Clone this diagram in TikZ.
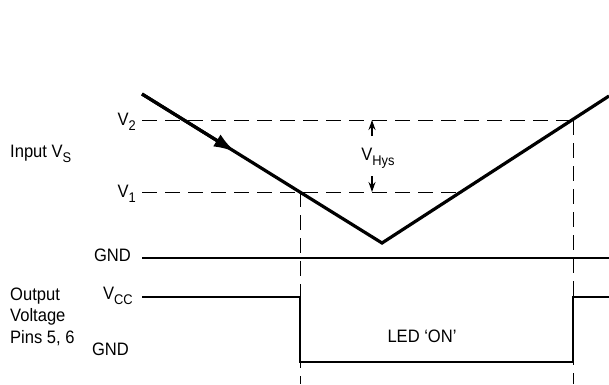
\documentclass[tikz,border=0pt]{standalone}
\usepackage{fontspec}
\setmainfont{Liberation Sans}[FakeStretch=0.92]
\usetikzlibrary{arrows.meta, positioning, calc}

\newcommand{\lowidx}[1]{\raisebox{-5pt}{\fontsize{14}{15}\selectfont #1}}

\begin{document}
\begin{tikzpicture}[
    x=1pt, y=-1pt,
    lbl/.style={font=\fontsize{18}{20}\selectfont, inner sep=0pt},
    level/.style={line width=1pt, dash pattern=on 15pt off 8pt},
    signal/.style={line width=3.2pt, line join=miter},
    rail/.style={line width=1.1pt},
    hys/.style={line width=1.2pt, -{Stealth[length=10pt, width=7pt]}},
]
\useasboundingbox (0,0) rectangle (609,384);

% Input waveform points
\coordinate (start) at (142,94);
\coordinate (cross1) at (300,192);
\coordinate (low) at (382,243);
\coordinate (cross2) at (573,120);
\coordinate (finish) at (609,96);

% Left labels, input
\node[lbl, anchor=base west] (input) at (10,157) {Input V\lowidx{S}};
\node[lbl, anchor=base east] (v2) at (136,125) {V\lowidx{2}};
\node[lbl, anchor=base east] (v1) at (136,197) {V\lowidx{1}};
\node[lbl, anchor=base east] (gnd1) at (131,261) {GND};

% Left labels, output
\node[lbl, anchor=base west] (output) at (10,300) {Output};
\node[lbl, anchor=base west] (voltage) at (10,321) {Voltage};
\node[lbl, anchor=base west] (pins) at (10,343) {Pins 5, 6};
\node[lbl, anchor=base east] (vcc) at (133,299) {V\lowidx{CC}};
\node[lbl, anchor=base east] (gnd2) at (129,355) {GND};

% Threshold levels
\coordinate (v2l) at (142,120);
\coordinate (v1l) at (142,192);
\coordinate (v1r) at (461,192);
\draw[level] (v2l) -- (cross2);
\draw[level] (v1l) -- (v1r);

% Ground rail
\coordinate (gndl) at (142,258);
\coordinate (gndr) at (609,258);
\draw[rail] (gndl) -- (gndr);

% Switching markers
\coordinate (m1) at (300,384);
\coordinate (m2) at (573,384);
\draw[level] (cross1) -- (m1);
\draw[level] (cross2) -- (m2);

% Input signal
\draw[signal] (start) -- (low) -- (finish);
\draw[signal, -{Latex[length=22pt, width=14pt]}] (start) -- ($(start)!0.39!(low)$);

% Hysteresis
\node[lbl, anchor=base] (vhys) at (378,160) {V\lowidx{Hys}};
\coordinate (hyst) at (372,120);
\coordinate (hysb) at (372,192);
\draw[hys] (372,136) -- (hyst);
\draw[hys] (372,176) -- (hysb);

% Output waveform
\coordinate (o1) at (142,297);
\coordinate (o2) at (300,297);
\coordinate (o3) at (300,362);
\coordinate (o4) at (573,362);
\coordinate (o5) at (573,297);
\coordinate (o6) at (609,297);
\draw[rail] (o1) -- (o2) -- (o3) -- (o4) -- (o5) -- (o6);
\node[lbl, anchor=base] (led) at (422,342) {LED ‘ON’};

\end{tikzpicture}
\end{document}
